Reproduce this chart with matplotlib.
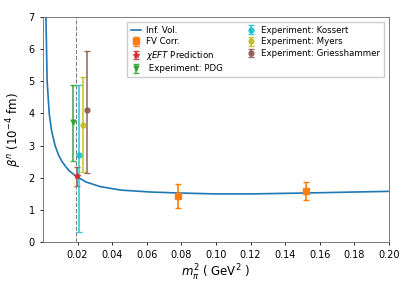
import numpy as np
import matplotlib.pyplot as plt

# Infinite-volume curve
inf_m2 = [0.0017, 0.0024, 0.0036, 0.005, 0.007, 0.009, 0.011, 0.013, 0.015, 0.0175, 0.0195,
          0.025, 0.033, 0.045, 0.062, 0.078, 0.10, 0.12, 0.153, 0.18, 0.20]
inf_beta = [7.0, 5.0, 4.0, 3.45, 3.0, 2.7, 2.5, 2.35, 2.22, 2.11, 2.03,
            1.86, 1.72, 1.61, 1.55, 1.52, 1.49, 1.49, 1.52, 1.55, 1.57]

# finite-volume corrected lattice points
fv_m2 = [0.078, 0.1523]
fv_beta = [1.43, 1.58]
fv_err = [0.37, 0.28]

# predictions / experiments: (label, m2, beta, err_low, err_high, colour, marker)
points = [
    (r"$\chi EFT$ Prediction", 0.0194, 2.04, 0.30, 0.30, "tab:red", "*"),
    (" Experiment: PDG", 0.0171, 3.72, 1.21, 1.17, "tab:green", "v"),
    ("Experiment: Kossert", 0.0211, 2.69, 2.39, 2.20, "tab:cyan", "o"),
    ("Experiment: Myers", 0.0231, 3.65, 1.47, 1.48, "tab:olive", "o"),
    ("Experiment: Griesshammer", 0.0252, 4.10, 1.95, 1.84, "tab:brown", "o"),
]
phys_m2 = 0.0192

fig = plt.figure(figsize=(4.15, 2.9), dpi=100)
ax = fig.add_axes([0.1036, 0.1666, 0.8337, 0.7736])

ax.plot(inf_m2, inf_beta, color="tab:blue", lw=1.2, label="Inf. Vol.")
ax.errorbar(fv_m2, fv_beta, yerr=fv_err, fmt="s", color="tab:orange",
            ms=4, capsize=2.5, elinewidth=1.2, label="FV Corr.")
for lab, x, y, lo, hi, c, m in points:
    ax.errorbar([x], [y], yerr=[[lo], [hi]], fmt=m, color=c,
                ms=3.5 if m != "*" else 4, capsize=2.5, elinewidth=1.2,
                label=lab, alpha=0.85)
ax.axvline(phys_m2, color="gray", ls="--", lw=0.8)

ax.set_xlim(0, 0.2)
ax.set_ylim(0, 7)
ax.set_xticks(np.arange(0.02, 0.201, 0.02))
ax.set_xticklabels([f"{v:.2f}" for v in np.arange(0.02, 0.201, 0.02)])
ax.set_yticks(range(0, 8))
ax.tick_params(labelsize=7, length=2.5, width=0.6)
for s in ax.spines.values():
    s.set_linewidth(0.6)
    s.set_color("0.4")

ax.set_xlabel(r"$m_\pi^2$ ( GeV$^2$ )", fontsize=8.5, labelpad=2)
ax.set_ylabel(r"$\beta^n$ ($10^{-4}$ fm)", fontsize=8.5, labelpad=3)

ax.legend(ncol=2, fontsize=6.2, loc="upper right", bbox_to_anchor=(0.986, 0.98),
          borderaxespad=0, handlelength=1.2, handletextpad=0.6, columnspacing=2.6,
          labelspacing=0.3, borderpad=0.45, fancybox=False, framealpha=1.0,
          edgecolor="0.8")

fig.savefig("out.png", dpi=100)
